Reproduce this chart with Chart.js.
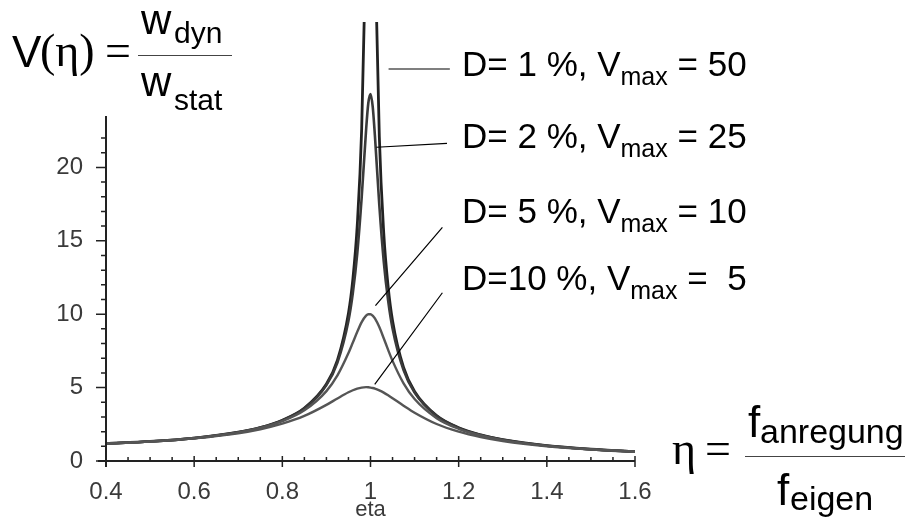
<!DOCTYPE html>
<html>
<head>
<meta charset="utf-8">
<script src="https://cdn.jsdelivr.net/npm/chart.js@4"></script>
<style>
    body { margin: 0; background: #fff; }
    #wrap { position: relative; width: 906px; height: 525px; overflow: hidden; background: #fff; }
    #chart { position: absolute; left: 0; top: 0; }
    .t { position: absolute; line-height: 1; white-space: pre; color: #000; font-family: 'Liberation Sans', Arial, sans-serif; }
    .s { font-family: 'Liberation Serif', 'Times New Roman', serif; }
    .bar { position: absolute; height: 0; border-top: 1.5px solid #444; }
    .row { font-size: 35px; }
    .row sub { font-size: 25px; vertical-align: -9px; line-height: 0; }
</style>
</head>
<body>
<div id="wrap">
    <canvas id="chart" width="906" height="525"></canvas>

    <!-- V(eta) = w_dyn / w_stat -->
    <div class="t" style="left:12px; top:30px; font-size:44px;">V</div>
    <div class="t s" style="left:40px; top:28px; font-size:46px;">(η)</div>
    <div class="t s" style="left:105px; top:28px; font-size:46px;">=</div>
    <div class="bar" style="left:138px; top:55px; width:94px;"></div>
    <div class="t" style="left:141px; top:-1px; font-size:42px;">w</div>
    <div class="t" style="left:174px; top:18px; font-size:30px;">dyn</div>
    <div class="t" style="left:141px; top:61px; font-size:42px;">w</div>
    <div class="t" style="left:174px; top:85px; font-size:30px;">stat</div>

    <!-- eta = f_anregung / f_eigen -->
    <div class="t s" style="left:672px; top:426px; font-size:46px;">η</div>
    <div class="t s" style="left:705px; top:426px; font-size:46px;">=</div>
    <div class="bar" style="left:745px; top:456px; width:160px;"></div>
    <div class="t" style="left:748px; top:400px; font-size:44px;">f</div>
    <div class="t" style="left:760px; top:414px; font-size:34px;">anregung</div>
    <div class="t" style="left:777px; top:468px; font-size:44px;">f</div>
    <div class="t" style="left:790px; top:481px; font-size:34px;">eigen</div>
</div>

<script>
// frequency ratio eta (x values)
const etaValues = [0.4, 0.5, 0.6, 0.7, 0.75, 0.8, 0.85, 0.9, 0.925, 0.95, 0.96, 0.97, 0.98, 0.99, 0.995,
    1.0, 1.005, 1.01, 1.02, 1.03, 1.04, 1.05, 1.075, 1.1, 1.15, 1.2, 1.25, 1.3, 1.4, 1.5, 1.6];

// magnification V
const vD1 = [1.19, 1.33, 1.56, 1.96, 2.28, 2.78, 3.60, 5.24, 6.87, 10.07, 12.39, 16.08, 22.63, 35.6, 44.9,
    50.0, 44.5, 35.1, 22.1, 15.55, 11.88, 9.56, 6.37, 4.74, 3.09, 2.27, 1.78, 1.45, 1.04, 0.80, 0.64];
const vD2 = [1.19, 1.33, 1.56, 1.96, 2.28, 2.77, 3.58, 5.17, 6.71, 9.56, 11.46, 14.15, 17.95, 22.56, 24.37,
    25.0, 24.14, 22.16, 17.42, 13.60, 10.92, 9.03, 6.19, 4.66, 3.07, 2.26, 1.77, 1.45, 1.04, 0.80, 0.64];
const vD5 = [1.19, 1.33, 1.56, 1.94, 2.25, 2.71, 3.45, 4.76, 5.83, 7.35, 8.07, 8.80, 9.46, 9.90, 10.0,
    10.0, 9.90, 9.71, 9.12, 8.36, 7.57, 6.82, 5.29, 4.22, 2.92, 2.19, 1.74, 1.42, 1.03, 0.79, 0.64];
const vD10 = [1.19, 1.32, 1.54, 1.89, 2.16, 2.54, 3.07, 3.82, 4.26, 4.68, 4.82, 4.93, 5.00, 5.03, 5.02,
    5.00, 4.97, 4.93, 4.81, 4.66, 4.48, 4.28, 3.77, 3.29, 2.52, 2.00, 1.63, 1.36, 1.00, 0.78, 0.63];

// curve labels
const dampingLabels = ['D= 1 %', 'D= 2 %', 'D= 5 %', 'D=10 %'];
const vMaxLabels = ['50', '25', '10', ' 5'];

// leader lines in data units: [eta1, V1, eta2, V2]
const leaderLines = [
    [1.041, 26.7, 1.180, 26.7],
    [1.0135, 21.37, 1.1735, 21.64],
    [1.0112, 10.58, 1.1631, 15.92],
    [1.0096, 5.22, 1.1631, 11.46]
];

// label rows (layout only)
const rowTops = [46, 118, 193, 260];
const wrap = document.getElementById('wrap');
dampingLabels.forEach((d, i) => {
    const div = document.createElement('div');
    div.className = 't row';
    div.style.left = '462px';
    div.style.top = rowTops[i] + 'px';
    div.innerHTML = `${d}, V<sub>max</sub> = ${vMaxLabels[i].replace(' ', '&nbsp;')}`;
    wrap.appendChild(div);
});

function toPoints(values) {
    return etaValues.map((x, i) => ({ x: x, y: values[i] }));
}

// axes with Maple style ticks + leader lines
const mapleAxes = {
    id: 'mapleAxes',
    afterDraw(chart) {
        const ctx = chart.ctx;
        const { left, right, top, bottom } = chart.chartArea;
        const xs = chart.scales.x;
        const ys = chart.scales.y;
        ctx.save();
        ctx.strokeStyle = '#222';
        ctx.lineWidth = 2;
        ctx.beginPath();
        ctx.moveTo(left - 8, bottom);
        ctx.lineTo(right, bottom);
        ctx.moveTo(left, bottom + 6);
        ctx.lineTo(left, top);
        ctx.stroke();

        ctx.lineWidth = 1.5;
        ctx.beginPath();
        ys.ticks.forEach(t => {
            const py = ys.getPixelForValue(t.value);
            const len = t.value % 5 === 0 ? 10 : 5;
            ctx.moveTo(left - len, py);
            ctx.lineTo(left, py);
        });
        xs.ticks.forEach(t => {
            const px = xs.getPixelForValue(t.value);
            if (t.label !== '') {
                ctx.moveTo(px, bottom - 5);
                ctx.lineTo(px, bottom + 6);
            } else {
                ctx.moveTo(px, bottom - 4);
                ctx.lineTo(px, bottom);
            }
        });
        ctx.stroke();

        // leader lines
        ctx.strokeStyle = '#000';
        ctx.lineWidth = 1.2;
        ctx.beginPath();
        leaderLines.forEach(l => {
            ctx.moveTo(xs.getPixelForValue(l[0]), ys.getPixelForValue(l[1]));
            ctx.lineTo(xs.getPixelForValue(l[2]), ys.getPixelForValue(l[3]));
        });
        ctx.stroke();
        ctx.restore();
    }
};

function curve(values, color, width) {
    return {
        data: toPoints(values),
        borderColor: color,
        borderWidth: width,
        pointRadius: 0,
        fill: false,
        cubicInterpolationMode: 'monotone',
        // Maple view reaches a bit above the drawn axis
        clip: { left: 0, top: 94, right: 0, bottom: 0 }
    };
}

Chart.defaults.font.family = "'Liberation Sans', Arial, sans-serif";

new Chart(document.getElementById('chart'), {
    type: 'line',
    data: {
        datasets: [
            curve(vD10, '#555', 2.4),
            curve(vD5, '#555', 2.4),
            curve(vD2, '#3a3a3a', 2.6),
            curve(vD1, '#222', 2.8)
        ]
    },
    options: {
        responsive: false,
        animation: false,
        devicePixelRatio: 1,
        layout: { padding: { left: 0, right: 271, top: 116, bottom: 2 } },
        plugins: { legend: { display: false }, tooltip: { enabled: false } },
        scales: {
            x: {
                type: 'linear',
                min: 0.4,
                max: 1.6,
                grid: { display: false },
                border: { display: false },
                afterFit: s => { s.height = 62; },
                ticks: {
                    stepSize: 0.05,
                    autoSkip: false,
                    maxRotation: 0,
                    padding: 9,
                    color: '#3a3a3a',
                    font: { size: 24 },
                    callback: v => {
                        if (Math.abs(v * 5 - Math.round(v * 5)) > 1e-6) return '';
                        return Math.abs(v - 1) < 1e-6 ? '1' : v.toFixed(1);
                    }
                },
                title: { display: true, text: 'eta', color: '#3a3a3a', font: { size: 22 }, padding: 0 }
            },
            y: {
                min: 0,
                max: 23.5,
                grid: { display: false },
                border: { display: false },
                afterFit: s => { s.width = 106; },
                afterBuildTicks: s => { s.ticks = s.ticks.filter(t => Number.isInteger(t.value)); },
                ticks: {
                    stepSize: 1,
                    autoSkip: false,
                    padding: 15,
                    color: '#3a3a3a',
                    font: { size: 24 },
                    callback: v => (v % 5 === 0 ? String(v) : '')
                }
            }
        }
    },
    plugins: [mapleAxes]
});
</script>
</body>
</html>
